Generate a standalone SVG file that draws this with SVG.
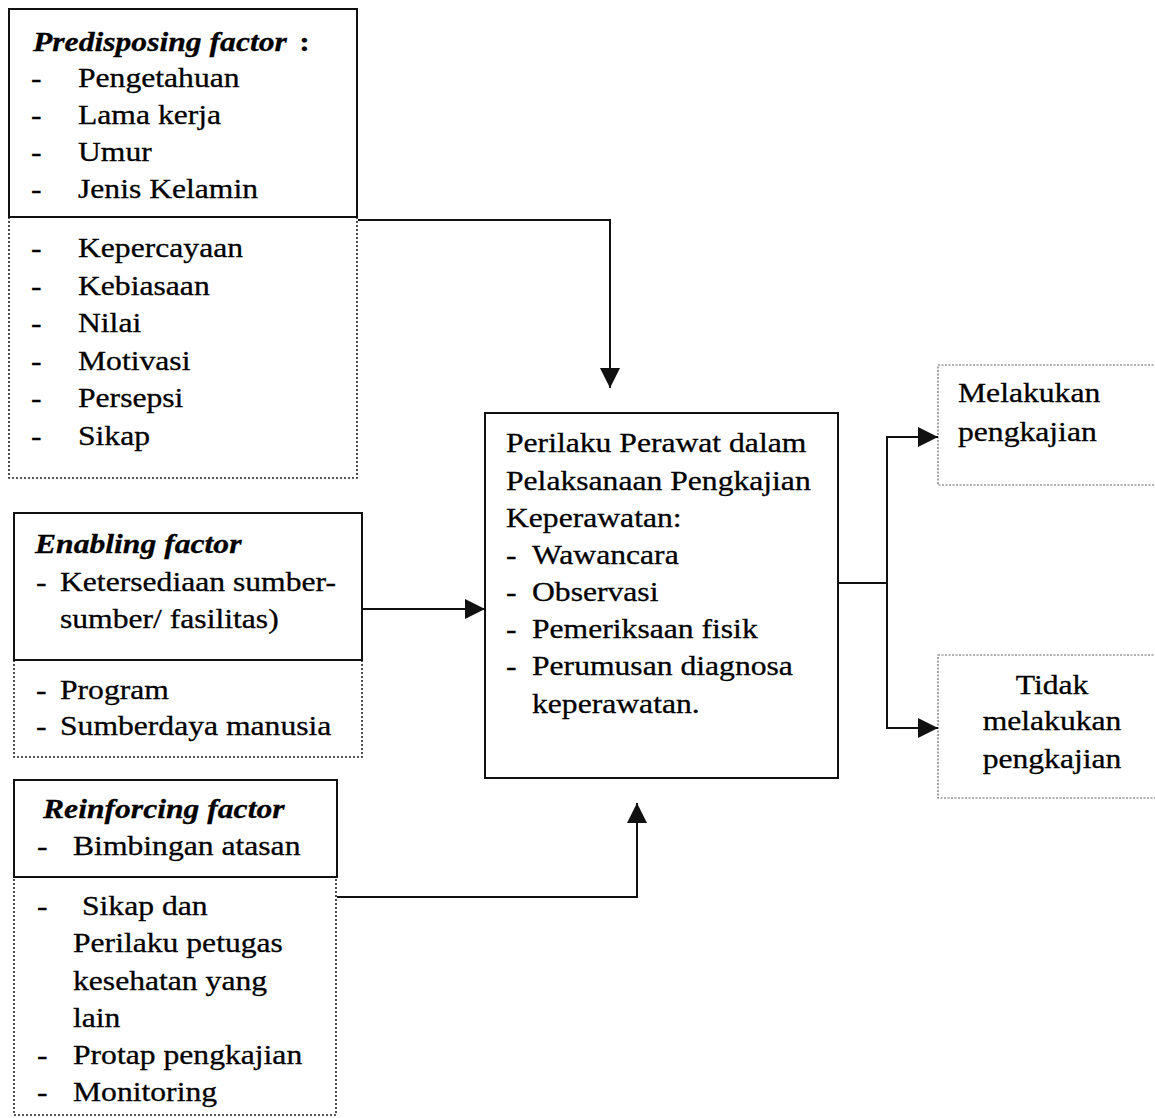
<svg xmlns="http://www.w3.org/2000/svg" width="1155" height="1118" viewBox="0 0 1155 1118">
<style>
.bg{fill:#fff}
.solid{fill:none;stroke:#111;stroke-width:2}
.dot{fill:none;stroke:#222;stroke-width:1.6;stroke-dasharray:2 2}
.dotg{fill:none;stroke:#666;stroke-width:1.2;stroke-dasharray:2 1.5}
.t{font-family:"Liberation Serif","Times New Roman",serif;font-size:28px;fill:#000;stroke:#000;stroke-width:0.3}
.h{font-weight:bold;font-style:italic}
.b{font-weight:bold}
.c{text-anchor:middle}
.conn{fill:none;stroke:#111;stroke-width:2}
</style>
<defs>
<marker id="arr" markerUnits="userSpaceOnUse" markerWidth="20" markerHeight="20" refX="20" refY="10" orient="auto">
<path d="M0,0 L20,10 L0,20 z" fill="#111"/>
</marker>
</defs>
<rect class="bg" x="0" y="0" width="1155" height="1118"/>

<g id="predisposing">
<rect class="dot" x="9" y="217" width="348" height="261"/>
<rect class="solid" x="9" y="9" width="348" height="208"/>
<text class="t" transform="translate(33,51) scale(1.13,1)"><tspan class="h">Predisposing factor</tspan><tspan class="b" dx="4"> :</tspan></text>
<text class="t" transform="translate(31,87) scale(1.13,1)">-</text><text class="t" transform="translate(78,87) scale(1.13,1)">Pengetahuan</text>
<text class="t" transform="translate(31,124) scale(1.13,1)">-</text><text class="t" transform="translate(78,124) scale(1.13,1)">Lama kerja</text>
<text class="t" transform="translate(31,161) scale(1.13,1)">-</text><text class="t" transform="translate(78,161) scale(1.13,1)">Umur</text>
<text class="t" transform="translate(31,198) scale(1.13,1)">-</text><text class="t" transform="translate(78,198) scale(1.13,1)">Jenis Kelamin</text>
<text class="t" transform="translate(31,257) scale(1.13,1)">-</text><text class="t" transform="translate(78,257) scale(1.13,1)">Kepercayaan</text>
<text class="t" transform="translate(31,295) scale(1.13,1)">-</text><text class="t" transform="translate(78,295) scale(1.13,1)">Kebiasaan</text>
<text class="t" transform="translate(31,332) scale(1.13,1)">-</text><text class="t" transform="translate(78,332) scale(1.13,1)">Nilai</text>
<text class="t" transform="translate(31,370) scale(1.13,1)">-</text><text class="t" transform="translate(78,370) scale(1.13,1)">Motivasi</text>
<text class="t" transform="translate(31,407) scale(1.13,1)">-</text><text class="t" transform="translate(78,407) scale(1.13,1)">Persepsi</text>
<text class="t" transform="translate(31,445) scale(1.13,1)">-</text><text class="t" transform="translate(78,445) scale(1.13,1)">Sikap</text>
</g>

<g id="enabling">
<rect class="dot" x="14" y="660" width="348" height="97"/>
<rect class="solid" x="14" y="513" width="348" height="147"/>
<text class="t h" transform="translate(35,553) scale(1.13,1)">Enabling factor</text>
<text class="t" transform="translate(36,591) scale(1.13,1)">-</text><text class="t" transform="translate(60,591) scale(1.13,1)">Ketersediaan sumber-</text>
<text class="t" transform="translate(60,628) scale(1.13,1)">sumber/ fasilitas)</text>
<text class="t" transform="translate(36,699) scale(1.13,1)">-</text><text class="t" transform="translate(60,699) scale(1.13,1)">Program</text>
<text class="t" transform="translate(36,735) scale(1.13,1)">-</text><text class="t" transform="translate(60,735) scale(1.13,1)">Sumberdaya manusia</text>
</g>

<g id="reinforcing">
<rect class="dot" x="14" y="877" width="322" height="238"/>
<rect class="solid" x="14" y="780" width="323" height="97"/>
<text class="t h" transform="translate(43,818) scale(1.13,1)">Reinforcing factor</text>
<text class="t" transform="translate(37,855) scale(1.13,1)">-</text><text class="t" transform="translate(73,855) scale(1.13,1)">Bimbingan atasan</text>
<text class="t" transform="translate(37,915) scale(1.13,1)">-</text><text class="t" transform="translate(82,915) scale(1.13,1)">Sikap dan</text>
<text class="t" transform="translate(73,952) scale(1.13,1)">Perilaku petugas</text>
<text class="t" transform="translate(73,990) scale(1.13,1)">kesehatan yang</text>
<text class="t" transform="translate(73,1027) scale(1.13,1)">lain</text>
<text class="t" transform="translate(37,1064) scale(1.13,1)">-</text><text class="t" transform="translate(73,1064) scale(1.13,1)">Protap pengkajian</text>
<text class="t" transform="translate(37,1101) scale(1.13,1)">-</text><text class="t" transform="translate(73,1101) scale(1.13,1)">Monitoring</text>
</g>

<g id="perilaku">
<rect class="solid" x="485" y="413" width="353" height="365"/>
<text class="t" transform="translate(506,452) scale(1.13,1)">Perilaku Perawat dalam</text>
<text class="t" transform="translate(506,490) scale(1.13,1)">Pelaksanaan Pengkajian</text>
<text class="t" transform="translate(506,527) scale(1.13,1)">Keperawatan:</text>
<text class="t" transform="translate(506,564) scale(1.13,1)">-</text><text class="t" transform="translate(532,564) scale(1.13,1)">Wawancara</text>
<text class="t" transform="translate(506,601) scale(1.13,1)">-</text><text class="t" transform="translate(532,601) scale(1.13,1)">Observasi</text>
<text class="t" transform="translate(506,638) scale(1.13,1)">-</text><text class="t" transform="translate(532,638) scale(1.13,1)">Pemeriksaan fisik</text>
<text class="t" transform="translate(506,675) scale(1.13,1)">-</text><text class="t" transform="translate(532,675) scale(1.13,1)">Perumusan diagnosa</text>
<text class="t" transform="translate(532,713) scale(1.13,1)">keperawatan.</text>
</g>

<g id="melakukan">
<rect class="dotg" x="938" y="365" width="230" height="120"/>
<text class="t" transform="translate(958,402) scale(1.13,1)">Melakukan</text>
<text class="t" transform="translate(958,441) scale(1.13,1)">pengkajian</text>
</g>

<g id="tidak">
<rect class="dotg" x="938" y="655" width="230" height="143"/>
<text class="t c" transform="translate(1052,694) scale(1.13,1)">Tidak</text>
<text class="t c" transform="translate(1052,730) scale(1.13,1)">melakukan</text>
<text class="t c" transform="translate(1052,768) scale(1.13,1)">pengkajian</text>
</g>

<g id="connectors">
<polyline class="conn" points="358,220 610,220 610,388" marker-end="url(#arr)"/>
<polyline class="conn" points="362,609 485,609" marker-end="url(#arr)"/>
<polyline class="conn" points="337,897 637,897 637,803" marker-end="url(#arr)"/>
<polyline class="conn" points="838,583 887,583"/>
<polyline class="conn" points="887,583 887,437 938,437" marker-end="url(#arr)"/>
<polyline class="conn" points="887,583 887,728 938,728" marker-end="url(#arr)"/>
</g>
</svg>
